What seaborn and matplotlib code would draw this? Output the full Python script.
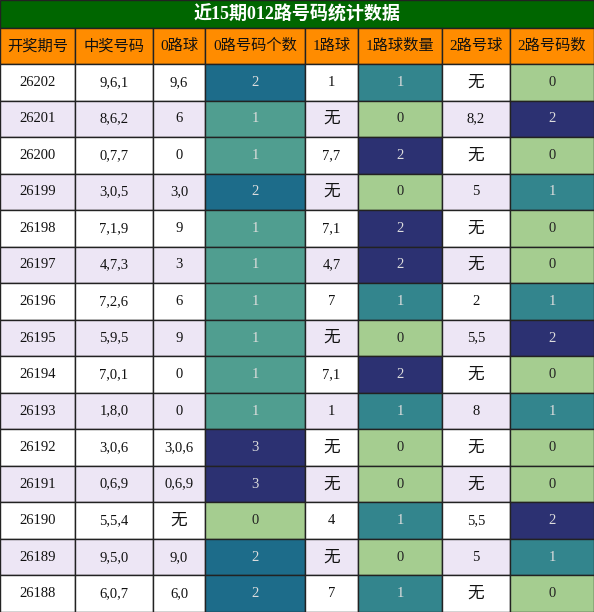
import matplotlib
matplotlib.use("Agg")
import matplotlib.pyplot as plt
import matplotlib.patches as mpatches
import seaborn as sns

# --- Data ---
periods = ["26202", "26201", "26200", "26199", "26198", "26197", "26196", "26195",
           "26194", "26193", "26192", "26191", "26190", "26189", "26188"]
draws = ["9,6,1", "8,6,2", "0,7,7", "3,0,5", "7,1,9", "4,7,3", "7,2,6", "5,9,5",
         "7,0,1", "1,8,0", "3,0,6", "0,6,9", "5,5,4", "9,5,0", "6,0,7"]
road0 = ["9,6", "6", "0", "3,0", "9", "3", "6", "9", "0", "0", "3,0,6", "0,6,9", "无", "9,0", "6,0"]
road0_cnt = [2, 1, 1, 2, 1, 1, 1, 1, 1, 1, 3, 3, 0, 2, 2]
road1 = ["1", "无", "7,7", "无", "7,1", "4,7", "7", "无", "7,1", "1", "无", "无", "4", "无", "7"]
road1_cnt = [1, 0, 2, 0, 2, 2, 1, 0, 2, 1, 0, 0, 1, 0, 1]
road2 = ["无", "8,2", "无", "5", "无", "无", "2", "5,5", "无", "8", "无", "无", "5,5", "5", "无"]
road2_cnt = [0, 2, 0, 1, 0, 0, 1, 2, 0, 1, 0, 0, 2, 1, 0]
headers = ["开奖期号", "中奖号码", "0路球", "0路号码个数", "1路球", "1路球数量", "2路号球", "2路号码数"]
title = "近15期012路号码统计数据"

W, H = 594, 612
col_edges = [0, 75, 153, 205, 305, 358, 442, 510, 594]
title_h, head_h = 28, 36
row_h = (H - title_h - head_h) / len(periods)

fonts = ["Liberation Serif", "Noto Sans CJK SC"]
cmap = sns.color_palette("crest", as_cmap=True)

fig = plt.figure(figsize=(W / 100, H / 100), dpi=100)
ax = fig.add_axes([0, 0, 1, 1])
ax.set_xlim(0, W)
ax.set_ylim(H, 0)
ax.axis("off")

def cell(x0, x1, y0, h, fc, text, tc="#111111", size=10.5, weight="normal"):
    ax.add_patch(mpatches.Rectangle((x0, y0), x1 - x0, h, facecolor=fc, edgecolor="#222222", lw=1))
    ax.text((x0 + x1) / 2, y0 + h / 2, text, ha="center", va="center", color=tc,
            fontsize=size, family=fonts, weight=weight)

# title bar
ax.add_patch(mpatches.Rectangle((0, 0), W, title_h, facecolor="#006600", edgecolor="#222222", lw=1))
ax.text(W / 2, title_h / 2, title, ha="center", va="center", color="white",
        fontsize=13, weight="bold", family=fonts)

for j, hdr in enumerate(headers):
    cell(col_edges[j], col_edges[j + 1], title_h, head_h, "#ff8c00", hdr, size=11)

count_cols = {3: road0_cnt, 5: road1_cnt, 7: road2_cnt}
for i in range(len(periods)):
    y0 = title_h + head_h + i * row_h
    bg = "white" if i % 2 == 0 else "#ede6f5"
    vals = [periods[i], draws[i], road0[i], road0_cnt[i], road1[i], road1_cnt[i], road2[i], road2_cnt[i]]
    for j, v in enumerate(vals):
        if j in count_cols:
            vmax = max(count_cols[j])
            fc = cmap(v / vmax)
            tc = "#222222" if v == 0 else "#dddddd"
            cell(col_edges[j], col_edges[j + 1], y0, row_h, fc, str(v), tc=tc)
        else:
            size = 12 if v == "无" else 10.5
            cell(col_edges[j], col_edges[j + 1], y0, row_h, bg, v, size=size)

fig.savefig("out.png", dpi=100)
